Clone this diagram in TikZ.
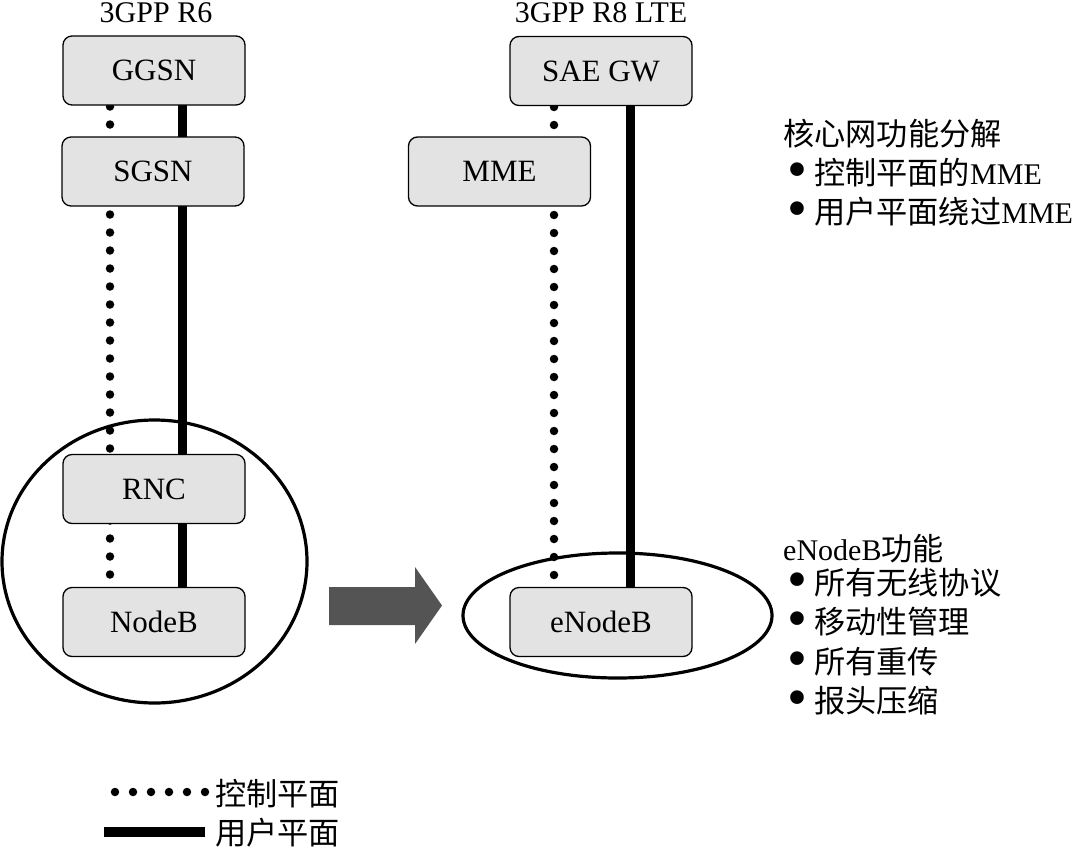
\documentclass[tikz,border=0pt]{standalone}
\usepackage{fontspec}
\setmainfont{Liberation Serif}
\newfontfamily\cjk[Scale=1.04]{Noto Sans CJK SC}
\usetikzlibrary{shapes.geometric}
\newcommand{\bul}{\smash{\raisebox{-4.5pt}{\scalebox{1.9}{\textbullet}}}\hspace{7pt}}
\begin{document}
\begin{tikzpicture}[x=1pt,y=-1pt,
  box/.style={draw=black,line width=1.3pt,fill=black!11,rounded corners=9pt,
    minimum width=182pt,minimum height=69pt,inner sep=0pt,
    font=\fontsize{31}{36}\selectfont},
  ctrl/.style={line width=8.5pt,line cap=round,dash pattern=on 0pt off 18pt},
  user/.style={line width=9pt},
  grp/.style={draw=black,line width=3.2pt,ellipse,inner sep=0pt},
  txt/.style={inner sep=0pt,anchor=base west,font=\fontsize{30}{30}\selectfont},
  hdr/.style={inner sep=0pt,anchor=base,font=\fontsize{30}{36}\selectfont}]
\useasboundingbox (0,0) rectangle (1075,851);
% group outlines
\node[grp,minimum width=305pt,minimum height=283pt] (g1) at (154.5,561.5) {};
\node[grp,minimum width=309pt,minimum height=125pt] (g2) at (617.5,615.5) {};
% column coordinates
\coordinate (cL) at (110,0);
\coordinate (uL) at (182,0);
\coordinate (cR) at (554,0);
\coordinate (uR) at (630,0);
% node positions
\path (154,70.5) coordinate (pGGSN) (153,171.5) coordinate (pSGSN)
      (154,489) coordinate (pRNC) (154,622) coordinate (pNB)
      (601,71) coordinate (pSAE) (499.5,171.5) coordinate (pMME)
      (601,622) coordinate (pENB);
% connectors drawn first (behind boxes)
\draw[ctrl] (pGGSN -| cL) -- (pNB -| cL);
\draw[user] (pGGSN -| uL) -- (pNB -| uL);
\draw[ctrl] (pSAE -| cR) -- (pENB -| cR);
\draw[user] (pSAE -| uR) -- (pENB -| uR);
% boxes
\node[box] (GGSN) at (pGGSN) {GGSN};
\node[box] (SGSN) at (pSGSN) {SGSN};
\node[box] (RNC) at (pRNC) {RNC};
\node[box] (NodeB) at (pNB) {NodeB};
\node[box] (SAEGW) at (pSAE) {SAE GW};
\node[box] (MME) at (pMME) {MME};
\node[box] (eNodeB) at (pENB) {eNodeB};
% big arrow
\fill[black!67] (329,587) -- (415,587) -- (415,567) -- (442,605.5) -- (415,644) -- (415,625) -- (329,625) -- cycle;
% headers
\node[hdr] (h1) at (156,23) {3GPP R6};
\node[hdr] (h2) at (601,23) {3GPP R8 LTE};
% right texts
\node[txt] (t1) at (783,145) {{\cjk 核心网功能分解}};
\node[txt] (t2) at (787,184) {\bul{\cjk 控制平面的}MME};
\node[txt] (t3) at (787,223) {\bul{\cjk 用户平面绕过}MME};
\node[txt] (t4) at (783,560) {eNodeB{\cjk 功能}};
\node[txt] (t5) at (787,594) {\bul{\cjk 所有无线协议}};
\node[txt] (t6) at (787,633) {\bul{\cjk 移动性管理}};
\node[txt] (t7) at (787,673) {\bul{\cjk 所有重传}};
\node[txt] (t8) at (787,712) {\bul{\cjk 报头压缩}};
% legend
\coordinate (lc1) at (115,792);
\coordinate (lc2) at (205,792);
\coordinate (lu1) at (104,832);
\coordinate (lu2) at (205,832);
\draw[ctrl] (lc1) -- (lc2);
\draw[line width=9.5pt] (lu1) -- (lu2);
\node[txt] (l1) at (215,805) {{\cjk 控制平面}};
\node[txt] (l2) at (215,844) {{\cjk 用户平面}};
\end{tikzpicture}
\end{document}
